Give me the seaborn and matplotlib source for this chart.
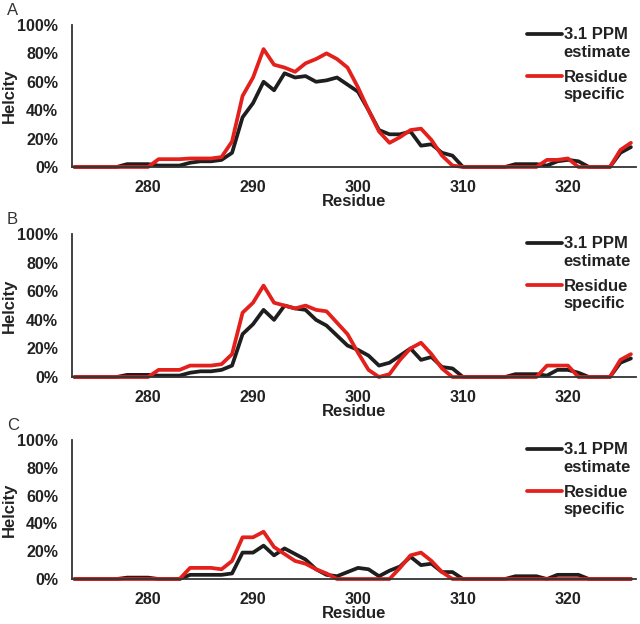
import numpy as np
import pandas as pd
import matplotlib
matplotlib.use("Agg")
import matplotlib.pyplot as plt
import seaborn as sns
from matplotlib.ticker import PercentFormatter
from matplotlib.lines import Line2D
from matplotlib.legend_handler import HandlerLine2D

# residue numbers on the x axis
residues = list(range(273, 327))

# panel A
ppm_a = [0, 0, 0, 0, 0, 2, 2, 2, 1, 1, 1, 3, 4, 4, 5, 10, 35, 45, 60, 54,
         66, 63, 64, 60, 61, 63, 58, 53, 40, 26, 23, 23, 25, 15, 16, 10, 8,
         0, 0, 0, 0, 0, 2, 2, 2, 1, 4, 5, 4, 0, 0, 0, 10, 14]
res_a = [0, 0, 0, 0, 0, 0, 0, 0, 5.5, 5.5, 5.5, 6, 6, 6, 7, 18, 50, 63, 83,
         72, 70, 67, 73, 76, 80, 76, 70, 56, 40, 25, 17, 21, 26, 27, 19, 8,
         1, 0, 0, 0, 0, 0, 0, 0, 0, 5, 5, 6, 0, 0, 0, 0, 12, 17]

# panel B
ppm_b = [0, 0, 0, 0, 0, 1.5, 1.5, 1.5, 1, 1, 1, 3, 4, 4, 5, 8, 30, 37, 47,
         40, 50, 48, 47, 40, 36, 29, 22, 19, 15, 8, 10, 15, 20, 12, 14, 7, 6,
         0, 0, 0, 0, 0, 2, 2, 2, 1, 5, 5, 3, 0, 0, 0, 10, 13]
res_b = [0, 0, 0, 0, 0, 0, 0, 0, 5, 5, 5, 8, 8, 8, 9, 16, 45, 52, 64, 52,
         50, 48, 50, 47, 46, 38, 30, 17, 5, 0, 2, 12, 20, 24, 16, 6, 0,
         0, 0, 0, 0, 0, 0, 0, 0, 8, 8, 8, 0, 0, 0, 0, 12, 16]

# panel C
ppm_c = [0, 0, 0, 0, 0, 1, 1, 1, 0, 0, 0, 3, 3, 3, 3, 4, 19, 19, 24, 17,
         22, 18, 14, 7, 3, 2, 5, 8, 7, 2, 6, 9, 16, 10, 11, 5, 5,
         0, 0, 0, 0, 0, 2, 2, 2, 0, 3, 3, 3, 0, 0, 0, 0, 0]
res_c = [0, 0, 0, 0, 0, 0, 0, 0, 0, 0, 0, 8, 8, 8, 7, 13, 30, 30, 34, 23,
         18, 13, 11, 7, 4, 0, 0, 0, 0, 0, 0, 8, 17, 19, 13, 5,
         0, 0, 0, 0, 0, 0, 0, 0, 0, 0, 0, 0, 0, 0, 0, 0, 0, 0]

panels = [("A", ppm_a, res_a), ("B", ppm_b, res_b), ("C", ppm_c, res_c)]
series_names = ["3.1 PPM\nestimate", "Residue\nspecific"]
colors = ["#1e1e1e", "#e3201b"]


# legend line sits level with the first text line, like the original
class TopLineHandler(HandlerLine2D):
    def create_artists(self, legend, orig_handle, xdescent, ydescent,
                       width, height, fontsize, trans):
        arts = super().create_artists(legend, orig_handle, xdescent, ydescent,
                                      width, height, fontsize, trans)
        for a in arts:
            a.set_ydata(np.asarray(a.get_ydata()) + fontsize * 0.6)
        return arts


sns.set_theme(style="white")
plt.rcParams['font.family'] = ['Liberation Sans', 'DejaVu Sans']

fig = plt.figure(figsize=(6.4, 6.24), dpi=100)

# axes rectangles (left, bottom, width, height) in figure fractions
rects = [(0.1125, 0.7324, 0.8815, 0.2276),
         (0.1125, 0.3958, 0.8815, 0.2290),
         (0.1125, 0.0721, 0.8815, 0.2228)]

for (letter, ppm, res), rect in zip(panels, rects):
    ax = fig.add_axes(rect)
    df = pd.DataFrame({"Residue": residues, "ppm": ppm, "res": res})
    sns.lineplot(data=df, x="Residue", y="ppm", ax=ax, color=colors[0],
                 linewidth=2.7, label=series_names[0], solid_capstyle="round",
                 solid_joinstyle="round")
    sns.lineplot(data=df, x="Residue", y="res", ax=ax, color=colors[1],
                 linewidth=2.7, label=series_names[1], solid_capstyle="round",
                 solid_joinstyle="round")

    ax.set_xlim(272.75, 326.5)
    ax.set_ylim(0, 100)
    ax.set_yticks([0, 20, 40, 60, 80, 100])
    ax.set_xticks([280, 290, 300, 310, 320])
    ax.yaxis.set_major_formatter(PercentFormatter(100, decimals=0))
    ax.tick_params(axis='both', length=0, labelsize=11.5)
    ax.tick_params(axis='y', pad=10)
    ax.tick_params(axis='x', pad=9.5)
    for lab in ax.get_xticklabels() + ax.get_yticklabels():
        lab.set_fontweight("bold")
        lab.set_color("#222222")

    for side in ['top', 'right']:
        ax.spines[side].set_visible(False)
    for side in ['left', 'bottom']:
        ax.spines[side].set_color("#333333")
        ax.spines[side].set_linewidth(1.3)
    for ln in ax.get_lines():
        ln.set_clip_on(False)

    ax.set_xlabel("Residue", fontsize=12, fontweight="bold", labelpad=-1,
                  color="#222222")
    ax.set_ylabel("Helcity", fontsize=12, fontweight="bold",
                  color="#222222")
    ax.yaxis.set_label_coords(-0.097, 0.5)

    leg = ax.legend(loc="upper left", bbox_to_anchor=(0.78, 1.09),
                    frameon=False, handlelength=2.1, handletextpad=0.1,
                    labelspacing=0.6, prop={"weight": "bold", "size": 12},
                    handler_map={Line2D: TopLineHandler()})
    for t in leg.get_texts():
        t.set_color("#222222")

    ax.text(-0.115, 1.05, letter, transform=ax.transAxes, fontsize=12,
            color="#333333", va="bottom", ha="left")

fig.savefig("out.png", dpi=100)
